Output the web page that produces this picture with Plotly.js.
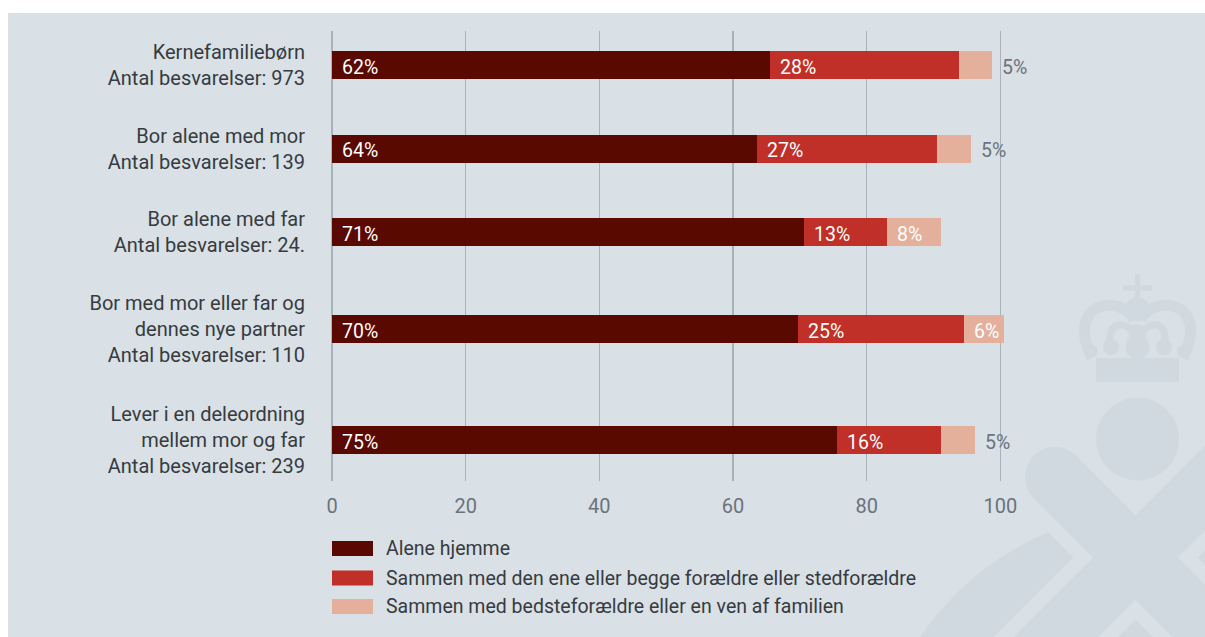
<!DOCTYPE html>
<html><head><meta charset="utf-8">
<script src="https://cdn.plot.ly/plotly-3.0.1.min.js"></script>
<style>
html,body{margin:0;padding:0;background:#ffffff;overflow:hidden;}
#chart{position:absolute;left:8px;top:13px;width:1197px;height:624px;}
</style></head><body><div id="chart"></div>
<script>
// ---- data ----
const categories = [
  ["Kernefamiliebørn", "Antal besvarelser: 973"],
  ["Bor alene med mor", "Antal besvarelser: 139"],
  ["Bor alene med far", "Antal besvarelser: 24."],
  ["Bor med mor eller far og", "dennes nye partner", "Antal besvarelser: 110"],
  ["Lever i en deleordning", "mellem mor og far", "Antal besvarelser: 239"]
];
const seriesNames = [
  "Alene hjemme",
  "Sammen med den ene eller begge forældre eller stedforældre",
  "Sammen med bedsteforældre eller en ven af familien"
];
const aloneValues     = [65.5, 63.6, 70.6, 69.7, 75.5];
const parentsValues   = [28.3, 26.9, 12.5, 24.8, 15.6];
const relativesValues = [5.0, 5.1, 8.1, 6.0, 5.1];
const aloneLabels     = ["62%", "64%", "71%", "70%", "75%"];
const parentsLabels   = ["28%", "27%", "13%", "25%", "16%"];
const relativesLabels = ["5%", "5%", "8%", "6%", "5%"];
const xTickVals = [0, 20, 40, 60, 80, 100];

// ---- styles ----
const colors = ["#5a0900", "#c02f28", "#e5b09b"];
const BG = "#d9e0e6", WM = "#cfd9df";
const FONT = "Roboto, 'Liberation Sans', sans-serif";
const TXT = "#363b40", GREY = "#6b737b";

// ---- geometry ----
const OX = 8, OY = 13;           // div offset on page
const ML = 324, MT = 18, PW = 695, PH = 450;
const FW = 1197, FH = 624;
const LINE = 27.5, GAP = 28.5;
const nLines = categories.map(c => c.length);
const pos = [0];
for (let i = 1; i < categories.length; i++) {
  pos.push(pos[i - 1] + (nLines[i - 1] + nLines[i]) / 2 * LINE + GAP);
}
const yTop = -34;
const yRange = [yTop + PH, yTop];

function px(x) { return (x - OX - ML) / PW; }
function py(y) { return 1 - (y - OY - MT) / PH; }
function P(x, y) { return px(x).toFixed(5) + "," + py(y).toFixed(5); }

const values = [aloneValues, parentsValues, relativesValues];
const traces = values.map((v, k) => ({
  type: "bar", orientation: "h",
  x: v, y: pos, width: 28,
  name: seriesNames[k],
  marker: { color: colors[k], line: { width: 0 } },
  hoverinfo: "skip", showlegend: false
}));

// ---- data label annotations ----
const annotations = [];
const labelSets = [aloneLabels, parentsLabels, relativesLabels];
for (let i = 0; i < pos.length; i++) {
  let base = 0;
  for (let k = 0; k < 3; k++) {
    const lab = labelSets[k][i];
    const inside = !(k === 2 && parseFloat(lab) <= 5);
    annotations.push({
      x: inside ? base : base + values[k][i], y: pos[i],
      xref: "x", yref: "y", xanchor: "left", yanchor: "middle",
      xshift: 8, yshift: -2, showarrow: false, text: lab,
      font: { family: FONT, size: 19.5, color: inside ? "#ffffff" : GREY }
    });
    base += values[k][i];
  }
}

// ---- watermark (decorative) ----
const shapes = [];
const wmLine = (x0, y0, x1, y1, w, c) => ({ type: "line", xref: "paper", yref: "paper", layer: "below",
  x0: px(x0), y0: py(y0), x1: px(x1), y1: py(y1), line: { color: c || WM, width: w } });
const wmCircle = (cx, cy, r, c) => ({ type: "circle", xref: "paper", yref: "paper", layer: "below",
  x0: px(cx - r), x1: px(cx + r), y0: py(cy + r), y1: py(cy - r), fillcolor: c || WM, line: { width: 0 } });
const wmPath = (d, w) => ({ type: "path", xref: "paper", yref: "paper", layer: "below", path: d,
  fillcolor: "rgba(0,0,0,0)", line: { color: WM, width: w } });
// big seal body
shapes.push(wmCircle(1160, 800, 290));
// gap around the X
shapes.push(wmLine(1055, 477, 1320, 742, 88, BG));
shapes.push(wmLine(1320, 373, 960, 733, 88, BG));
shapes.push(wmCircle(1055, 477, 44, BG));
// the X
shapes.push(wmLine(1055, 477, 1320, 742, 60));
shapes.push(wmLine(1320, 373, 960, 733, 60));
shapes.push(wmCircle(1055, 477, 30));
// ball
shapes.push(wmCircle(1137.5, 439, 41.5));
// crown
shapes.push({ type: "rect", xref: "paper", yref: "paper", layer: "below",
  x0: px(1096), x1: px(1179), y0: py(382), y1: py(358), fillcolor: WM, line: { width: 0 } });
shapes.push(wmPath("M" + P(1092, 358) + " C" + P(1064, 300) + " " + P(1122, 294) + " " + P(1134, 320), 11));
shapes.push(wmPath("M" + P(1183, 358) + " C" + P(1211, 300) + " " + P(1153, 294) + " " + P(1141, 320), 11));
shapes.push(wmPath("M" + P(1112, 352) + " C" + P(1103, 322) + " " + P(1125, 318) + " " + P(1134, 334), 7));
shapes.push(wmPath("M" + P(1163, 352) + " C" + P(1172, 322) + " " + P(1150, 318) + " " + P(1141, 334), 7));
shapes.push(wmCircle(1137.5, 309, 12));
shapes.push(wmCircle(1137.5, 333, 9));
shapes.push(wmCircle(1137.5, 347, 12));
shapes.push(wmCircle(1111, 347, 8));
shapes.push(wmCircle(1164, 347, 8));
shapes.push(wmCircle(1092, 351, 6));
shapes.push(wmCircle(1183, 351, 6));
shapes.push(wmLine(1137.5, 274, 1137.5, 302, 5));
shapes.push(wmLine(1123, 288, 1152, 288, 5));

// ---- legend (custom, wide swatches) ----
const legendRows = [548.5, 578, 606.5];
for (let k = 0; k < 3; k++) {
  shapes.push({ type: "rect", xref: "paper", yref: "paper",
    x0: px(332), x1: px(373), y0: py(legendRows[k] + 7.5), y1: py(legendRows[k] - 7.5),
    fillcolor: colors[k], line: { width: 0 } });
  annotations.push({ xref: "paper", yref: "paper", x: px(384), y: py(legendRows[k]),
    xanchor: "left", yanchor: "middle", showarrow: false, text: seriesNames[k],
    font: { family: FONT, size: 19.5, color: TXT } });
}

const layout = {
  width: FW, height: FH,
  margin: { l: ML, r: FW - ML - PW, t: MT, b: FH - MT - PH, pad: 0 },
  paper_bgcolor: BG, plot_bgcolor: "rgba(0,0,0,0)",
  barmode: "stack", bargap: 0,
  font: { family: FONT, color: TXT },
  showlegend: false,
  xaxis: {
    range: [0, 104], tickvals: xTickVals, ticktext: xTickVals.map(String),
    showgrid: true, gridcolor: "#a8b2ba", gridwidth: 1.5,
    zeroline: true, zerolinecolor: "#a8b2ba", zerolinewidth: 1.5,
    showline: false, ticks: "", ticklabelstandoff: 11,
    tickfont: { family: FONT, size: 20, color: GREY }, fixedrange: true
  },
  yaxis: {
    range: yRange, tickvals: pos, ticktext: categories.map(c => c.join("<br>")),
    showgrid: false, zeroline: false, showline: false, ticks: "",
    ticklabelstandoff: 26,
    tickfont: { family: FONT, size: 20, color: TXT }, fixedrange: true
  },
  shapes: shapes,
  annotations: annotations
};

Plotly.newPlot("chart", traces, layout, { displayModeBar: false, staticPlot: true });
</script></body></html>
